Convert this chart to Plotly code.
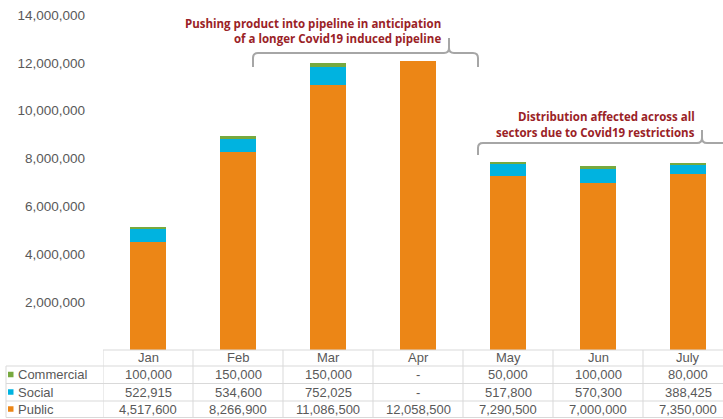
import plotly.graph_objects as go

months = ["Jan", "Feb", "Mar", "Apr", "May", "Jun", "July"]
commercial = [100000, 150000, 150000, 0, 50000, 100000, 80000]
social = [522915, 534600, 752025, 0, 517800, 570300, 388425]
public = [4517600, 8266900, 11086500, 12058500, 7290500, 7000000, 7350000]

series = [("Public", public, "#EC8616"),
          ("Social", social, "#00B3E0"),
          ("Commercial", commercial, "#77A93F")]

callout1 = ["Pushing product into pipeline in anticipation",
            "of a longer Covid19 induced pipeline"]
callout2 = ["Distribution affected across all",
            "sectors due to Covid19 restrictions"]

W, H = 723, 419
L, R, T, B = 103, 0, 15, 69
PW, PH = W - L - R, H - T - B
BOT = H - B


def px(x):
    return (x - L) / PW


def py(y):
    return (BOT - y) / PH


def P(x, y):
    return f"{px(x):.5f},{py(y):.5f}"


fig = go.Figure()
for name, vals, col in series:
    fig.add_trace(go.Bar(x=months, y=vals, name=name, marker_color=col,
                         marker_line_width=0, width=0.41, hoverinfo="skip"))

TXT = "#595959"
GRID = "#D9D9D9"
FONT = "Liberation Sans, Arial, sans-serif"

shapes = []
annots = []

row_lines = [350, 366, 383.5, 401, 417.5]
row_centers = [357.5, 374.5, 392, 409]

shapes.append(dict(type="line", xref="paper", yref="paper", x0=0, x1=1,
                   y0=py(row_lines[0]), y1=py(row_lines[0]),
                   line=dict(color=GRID, width=1)))
for yl in row_lines[1:]:
    shapes.append(dict(type="line", xref="paper", yref="paper", x0=px(6), x1=1,
                       y0=py(yl), y1=py(yl), line=dict(color=GRID, width=1)))
shapes.append(dict(type="line", xref="paper", yref="paper", x0=px(6), x1=px(6),
                   y0=py(row_lines[1]), y1=py(row_lines[-1]),
                   line=dict(color=GRID, width=1)))
for i in range(len(months) + 1):
    shapes.append(dict(type="line", xref="x", yref="paper", x0=i - 0.5, x1=i - 0.5,
                       y0=py(row_lines[0]), y1=py(row_lines[-1]),
                       line=dict(color=GRID, width=1)))

for i, m in enumerate(months):
    annots.append(dict(x=i, y=py(row_centers[0]), xref="x", yref="paper", text=m,
                       showarrow=False, xanchor="center", yanchor="middle",
                       font=dict(size=13, color=TXT, family=FONT)))

table_rows = [("Commercial", commercial, "#77A93F"),
              ("Social", social, "#00B3E0"),
              ("Public", public, "#EC8616")]
for r, (name, vals, col) in enumerate(table_rows):
    yc = row_centers[r + 1]
    shapes.append(dict(type="rect", xref="paper", yref="paper",
                       x0=px(8), x1=px(13.5), y0=py(yc + 2.75), y1=py(yc - 2.75),
                       fillcolor=col, line=dict(width=0)))
    annots.append(dict(x=px(16), y=py(yc), xref="paper", yref="paper", text=name,
                       showarrow=False, xanchor="left", yanchor="middle",
                       font=dict(size=13, color=TXT, family=FONT)))
    for i, v in enumerate(vals):
        annots.append(dict(x=i, y=py(yc), xref="x", yref="paper",
                           text=f"{v:,}" if v else "-",
                           showarrow=False, xanchor="center", yanchor="middle",
                           font=dict(size=13, color=TXT, family=FONT)))

RED = "#9A2226"
CFONT = "Open Sans, sans-serif"
for text, xr, yc in ((callout1, 443, [23, 38]), (callout2, 697, [116, 132])):
    for line, y in zip(text, yc):
        annots.append(dict(x=px(xr), y=py(y), xref="paper", yref="paper",
                           text=f"<b>{line}</b>", showarrow=False,
                           xanchor="right", yanchor="middle",
                           font=dict(size=11.5, color=RED, family=CFONT)))

BR = "#A6A6A6"
b1 = (f"M {P(253,67)} L {P(253,58)} Q {P(253,53)} {P(258,53)} L {P(444,53)} "
      f"Q {P(449,53)} {P(449,48)} L {P(449,38)} M {P(449,48)} Q {P(449,53)} {P(454,53)} "
      f"L {P(473,53)} Q {P(478,53)} {P(478,58)} L {P(478,67)}")
b2 = (f"M {P(478,155)} L {P(478,148)} Q {P(478,143)} {P(483,143)} L {P(697,143)} "
      f"Q {P(702,143)} {P(702,138)} L {P(702,130)} M {P(702,138)} Q {P(702,143)} {P(707,143)} "
      f"L {P(723,143)}")
for p in (b1, b2):
    shapes.append(dict(type="path", xref="paper", yref="paper", path=p,
                       line=dict(color=BR, width=2)))

fig.update_layout(
    width=W, height=H,
    margin=dict(l=L, r=R, t=T, b=B, pad=0),
    barmode="stack",
    showlegend=False,
    plot_bgcolor="white", paper_bgcolor="white",
    shapes=shapes, annotations=annots,
    xaxis=dict(range=[-0.5, -0.5 + PW / 90], showticklabels=False, showgrid=False,
               zeroline=False, showline=False, ticks="", fixedrange=True),
    yaxis=dict(range=[0, 14e6], tickvals=[2e6 * k for k in range(1, 8)],
               tickformat=",d", showgrid=False, zeroline=False, showline=False,
               ticks="", ticklabelstandoff=17,
               tickfont=dict(size=13.5, color=TXT, family=FONT), fixedrange=True),
)

fig.write_html("out.html")
